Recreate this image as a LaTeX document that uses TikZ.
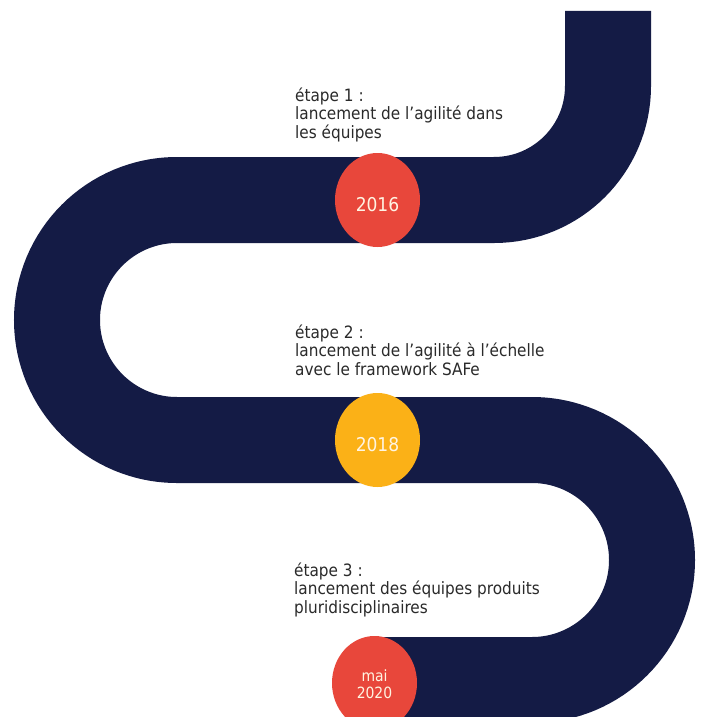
\documentclass[tikz,border=0pt]{standalone}
\usepackage{fontspec}
\setmainfont{DejaVu Sans Condensed}
\usetikzlibrary{shapes.geometric}
\definecolor{navy}{HTML}{141B45}
\definecolor{dotred}{HTML}{E8473B}
\definecolor{dotyellow}{HTML}{FBB117}
\definecolor{labelcream}{HTML}{FFF4E2}
\definecolor{captiongray}{HTML}{2A2A2A}
\begin{document}
\begin{tikzpicture}[x=1pt,y=-1pt,
  road/.style={draw=navy, line width=86pt},
  dot/.style={ellipse, minimum width=85pt, minimum height=94pt, inner sep=0pt, draw=none},
  yearlabel/.style={text=labelcream, inner sep=0pt, font=\fontsize{19}{19}\selectfont},
  caption/.style={anchor=base west, align=left, inner sep=0pt, text=captiongray, font=\fontsize{17}{18.5}\selectfont}]
\useasboundingbox (0,0) rectangle (702,717);
\clip (0,0) rectangle (702,717);
\fill[white] (0,0) rectangle (702,717);
\draw[road] (608,11) -- (608,86) arc[start angle=0,end angle=90,radius=114]
  -- (177,200) arc[start angle=270,end angle=90,radius=120]
  -- (532,440) arc[start angle=-90,end angle=90,radius=120]
  -- (380,680);
\node[dot, fill=dotred] (c2016) at (377.5,200) {};
\node[dot, fill=dotyellow] (c2018) at (377.5,440) {};
\node[dot, fill=dotred] (c2020) at (374.5,683) {};
\node[yearlabel] (t2016) at (377.5,205) {2016};
\node[yearlabel] (t2018) at (377.5,445) {2018};
\node[yearlabel, align=center, font=\fontsize{15.5}{17}\selectfont] (t2020) at (374.5,684) {mai\\2020};
\node[caption] (s1) at (295,138) {étape 1 :\\lancement de l’agilité dans\\les équipes};
\node[caption] (s2) at (295,375) {étape 2 :\\lancement de l’agilité à l’échelle\\avec le framework SAFe};
\node[caption] (s3) at (294,613) {étape 3 :\\lancement des équipes produits\\pluridisciplinaires};
\end{tikzpicture}
\end{document}
